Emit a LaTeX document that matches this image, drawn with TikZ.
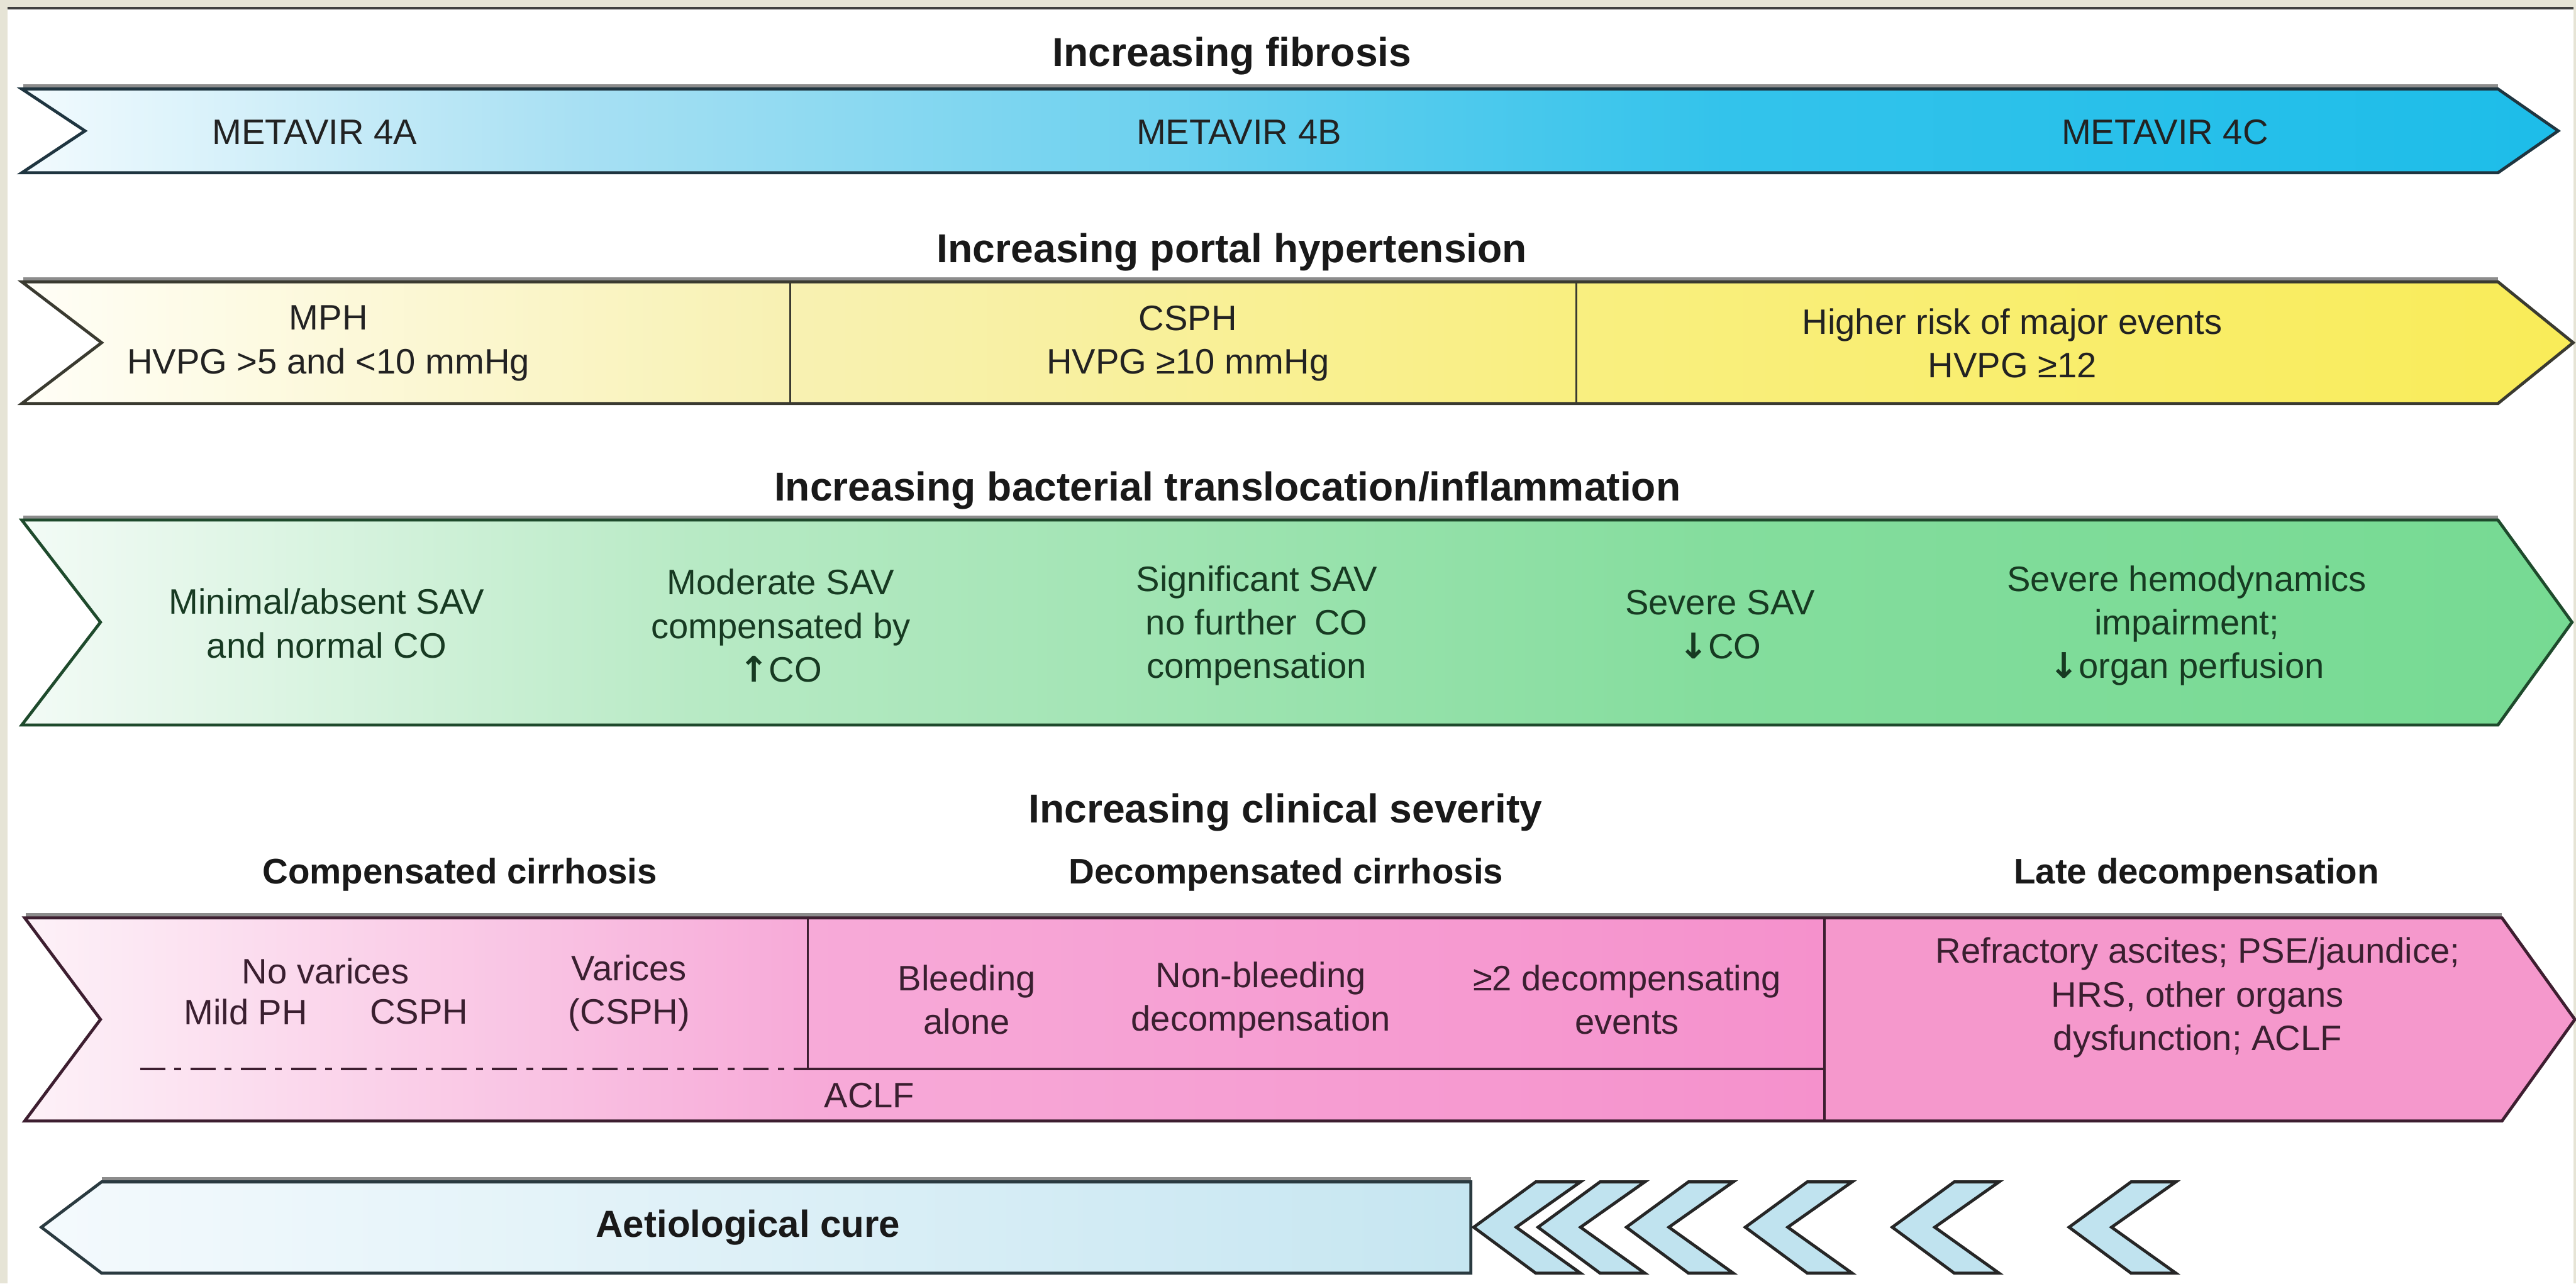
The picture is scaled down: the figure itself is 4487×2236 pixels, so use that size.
\documentclass[tikz,border=0pt]{standalone}
\usepackage{fontspec}
\setmainfont{Liberation Sans}
\newfontfamily\arrowfont{DejaVu Sans}
\newcommand\myup{{\arrowfont\bfseries ↑}}
\newcommand\mydown{{\arrowfont\bfseries ↓}}
\definecolor{bgbeige}{HTML}{E6E4D6}
\definecolor{b0}{HTML}{F3FBFE}\definecolor{b1}{HTML}{A8E0F3}\definecolor{b2}{HTML}{33C3EB}\definecolor{b3}{HTML}{1DBDE9}
\definecolor{y0}{HTML}{FFFEF7}\definecolor{y1}{HTML}{F8F1B2}\definecolor{y2}{HTML}{F9EF80}\definecolor{y3}{HTML}{F9EC58}
\definecolor{g0}{HTML}{F3FBF6}\definecolor{g1}{HTML}{B8EAC5}\definecolor{g2}{HTML}{84DD9D}\definecolor{g3}{HTML}{76DA93}
\definecolor{p0}{HTML}{FDF2F8}\definecolor{p1}{HTML}{F7AAD8}\definecolor{p2}{HTML}{F591CC}\definecolor{p3}{HTML}{F598CC}
\definecolor{a0}{HTML}{F4FAFD}\definecolor{a1}{HTML}{C6E6F1}\definecolor{chev}{HTML}{C0E3EF}
\definecolor{lblue}{HTML}{1F3540}\definecolor{lyel}{HTML}{3A3A30}\definecolor{lgreen}{HTML}{1E4A2C}
\definecolor{lpink}{HTML}{3D1E30}\definecolor{laet}{HTML}{2A3A40}
\definecolor{tgreen}{HTML}{173A22}\definecolor{tpink}{HTML}{3A1F30}\definecolor{tdark}{HTML}{222222}
\begin{document}
\begin{tikzpicture}[x=0.01cm,y=-0.01cm,
  txt/.style={font=\fontsize{17.5}{21.6}\selectfont, align=center, inner sep=0pt, text=#1},
  txt/.default=tdark,
  head/.style={font=\fontsize{20}{24}\selectfont\bfseries, inner sep=0pt, text=black!90},
  subhead/.style={font=\fontsize{17.6}{21}\selectfont\bfseries, inner sep=0pt, text=black!90},
  outline/.style={draw=#1, line width=1.5pt, line join=miter},
  shadowline/.style={line width=2.4pt, draw=black!45},
  divider/.style={draw=#1, line width=1pt},
]
% background
\fill[bgbeige] (0,0) rectangle (4487,2236);
\fill[white] (13,16) rectangle (4483,2236);
\draw[line width=1.2pt, black!75] (13,14) -- (4483,14);
\useasboundingbox (0,0) rectangle (4487,2236);

% ---------- band 1: fibrosis ----------
\draw[shadowline] (40,151) -- (4351,151);
\begin{scope}
\clip (38,155) -- (4351,155) -- (4456,228) -- (4351,301) -- (38,301) -- (148,228) -- cycle;
\shade[left color=b0, right color=b1] (30,140) rectangle (1002,310);
\shade[left color=b1, right color=b2] (1000,140) rectangle (3002,310);
\shade[left color=b2, right color=b3] (3000,140) rectangle (4470,310);
\end{scope}
\draw[outline=lblue] (38,155) -- (4351,155) -- (4456,228) -- (4351,301) -- (38,301) -- (148,228) -- cycle;

% ---------- band 2: portal hypertension ----------
\draw[shadowline] (40,487) -- (4351,487);
\begin{scope}
\clip (38,491) -- (4351,491) -- (4482,597) -- (4351,703) -- (38,703) -- (177,597) -- cycle;
\shade[left color=y0, right color=y1] (30,480) rectangle (1378,710);
\shade[left color=y1, right color=y2] (1376,480) rectangle (2748,710);
\shade[left color=y2, right color=y3] (2746,480) rectangle (4490,710);
\end{scope}
\draw[outline=lyel] (38,491) -- (4351,491) -- (4482,597) -- (4351,703) -- (38,703) -- (177,597) -- cycle;
\coordinate (yd1t) at (1376,491); \coordinate (yd1b) at (1376,703);
\coordinate (yd2t) at (2746,491); \coordinate (yd2b) at (2746,703);
\draw[divider=lyel] (yd1t) -- (yd1b);
\draw[divider=lyel] (yd2t) -- (yd2b);

% ---------- band 3: bacterial translocation ----------
\draw[shadowline] (40,902) -- (4351,902);
\begin{scope}
\clip (38,906) -- (4351,906) -- (4480,1084) -- (4351,1263) -- (38,1263) -- (175,1084) -- cycle;
\shade[left color=g0, right color=g1] (30,895) rectangle (1202,1270);
\shade[left color=g1, right color=g2] (1200,895) rectangle (3002,1270);
\shade[left color=g2, right color=g3] (3000,895) rectangle (4490,1270);
\end{scope}
\draw[outline=lgreen] (38,906) -- (4351,906) -- (4480,1084) -- (4351,1263) -- (38,1263) -- (175,1084) -- cycle;

% ---------- band 4: clinical severity ----------
\draw[shadowline] (45,1595) -- (4358,1595);
\begin{scope}
\clip (43,1599) -- (4358,1599) -- (4485,1776) -- (4358,1953) -- (43,1953) -- (175,1776) -- cycle;
\shade[left color=p0, right color=p1] (30,1590) rectangle (1409,1960);
\shade[left color=p1, right color=p2] (1407,1590) rectangle (3180,1960);
\fill[p3] (3178,1590) rectangle (4490,1960);
\end{scope}
\draw[outline=lpink] (43,1599) -- (4358,1599) -- (4485,1776) -- (4358,1953) -- (43,1953) -- (175,1776) -- cycle;
\coordinate (pd1t) at (1407,1599); \coordinate (pd1b) at (1407,1862);
\coordinate (pd2t) at (3178,1599); \coordinate (pd2b) at (3178,1953);
\coordinate (pdm) at (3178,1862); \coordinate (dashs) at (244,1862);
\draw[divider=lpink] (pd1t) -- (pd1b);
\draw[divider=lpink] (pd2t) -- (pd2b);
\draw[draw=lpink, line width=1.3pt] (pd1b) -- (pdm);
\draw[draw=lpink, line width=1.4pt, dash pattern=on 12.5pt off 4.5pt on 3.4pt off 4.5pt] (dashs) -- (pd1b);

% ---------- aetiological cure ----------
\draw[shadowline] (177,2055) -- (2562,2055);
\shade[left color=a0, right color=a1] (72,2138) -- (177,2059) -- (2562,2059) -- (2562,2218) -- (177,2218) -- cycle;
\draw[outline=laet] (72,2138) -- (177,2059) -- (2562,2059) -- (2562,2218) -- (177,2218) -- cycle;
\foreach \xo in {2567,2679,2833,3040,3296,3604}{
  \filldraw[fill=chev, draw=black!85, line width=1.5pt, line join=miter]
    (\xo,2138) -- ({\xo+108},2059) -- ({\xo+186},2059) -- ({\xo+74},2138)
    -- ({\xo+186},2218) -- ({\xo+108},2218) -- cycle;
}

% ---------- headings ----------
\node[head] (h1) at (2146,98) {Increasing fibrosis};
\node[head] (h2) at (2146,439) {Increasing portal hypertension};
\node[head] (h3) at (2138,855) {Increasing bacterial translocation/inflammation};
\node[head] (h4) at (2239,1415) {Increasing clinical severity};
\node[subhead] (s1) at (801,1524) {Compensated cirrhosis};
\node[subhead] (s2) at (2240,1524) {Decompensated cirrhosis};
\node[subhead] (s3) at (3826,1524) {Late decompensation};

% ---------- band texts ----------
\node[txt] (m4a) at (548,230) {METAVIR 4A};
\node[txt] (m4b) at (2158,230) {METAVIR 4B};
\node[txt] (m4c) at (3771,230) {METAVIR 4C};

\node[txt] (mph) at (572,598) {MPH\\HVPG >5 and <10 mmHg};
\node[txt] (csph) at (2069,598) {CSPH\\HVPG ≥10 mmHg};
\node[txt] (high) at (3505,598) {Higher risk of major events\\HVPG ≥12};

\node[txt=tgreen] (sav1) at (569,1086) {Minimal/absent SAV\\and normal CO};
\node[txt=tgreen] (sav2) at (1360,1090) {Moderate SAV\\compensated by\\\myup CO};
\node[txt=tgreen] (sav3) at (2189,1090) {Significant SAV\\no further\enspace CO\\compensation};
\node[txt=tgreen] (sav4) at (2996,1088) {Severe SAV\\\mydown CO};
\node[txt=tgreen] (sav5) at (3809,1090) {Severe hemodynamics\\impairment;\\\mydown organ perfusion};

\node[txt=tpink] (novar) at (567,1692) {No varices};
\node[txt=tpink] (mild) at (428,1763) {Mild PH};
\node[txt=tpink] (cs) at (730,1763) {CSPH};
\node[txt=tpink] (var) at (1096,1730) {Varices\\(CSPH)};
\node[txt=tpink] (bleed) at (1684,1742) {Bleeding\\alone};
\node[txt=tpink] (nonb) at (2196,1742) {Non-bleeding\\decompensation};
\node[txt=tpink] (two) at (2834,1742) {≥2 decompensating\\events};
\node[txt=tpink, anchor=west] (aclf) at (1435,1908) {ACLF};
\node[txt=tpink] (late) at (3828,1738) {Refractory ascites; PSE/jaundice;\\HRS, other organs\\dysfunction; ACLF};

\node[font=\fontsize{18.7}{22}\selectfont\bfseries, inner sep=0pt, text=black!90] (cure) at (1303,2138) {Aetiological cure};
\end{tikzpicture}
\end{document}
